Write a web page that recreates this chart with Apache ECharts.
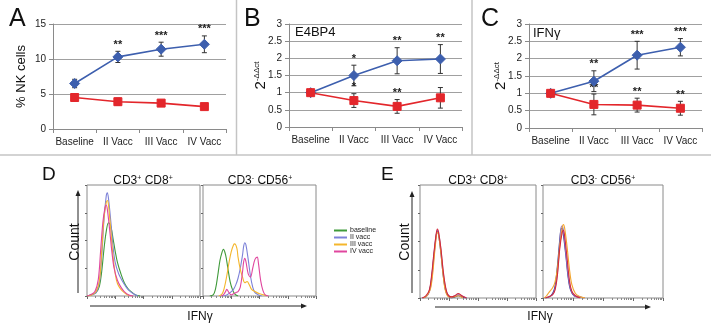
<!DOCTYPE html>
<html>
<head>
<meta charset="utf-8">
<script src="https://cdn.jsdelivr.net/npm/echarts@6/dist/echarts.min.js"></script>
<style>
  html, body { margin: 0; padding: 0; background: #fff; }
  #main { width: 711px; height: 332px; }
</style>
</head>
<body>
<div id="main"></div>
<script>
const categories = ['Baseline', 'II Vacc', 'III Vacc', 'IV Vacc'];

// A: % NK cells
const nkVacc = [6.5, 10.3, 11.4, 12.1];
const nkVaccErr = [0.6, 0.8, 1.0, 1.2];
const nkVaccStars = ['', '**', '***', '***'];
const nkCtrl = [4.5, 3.9, 3.7, 3.2];
const nkCtrlErr = [0.5, 0.5, 0.3, 0.2];
const nkCtrlStars = ['', '', '', ''];

// B: E4BP4
const e4Vacc = [1.0, 1.5, 1.93, 1.98];
const e4VaccErr = [0.05, 0.3, 0.38, 0.42];
const e4VaccStars = ['', '*', '**', '**'];
const e4Ctrl = [1.0, 0.77, 0.6, 0.85];
const e4CtrlErr = [0.05, 0.2, 0.2, 0.3];
const e4CtrlStars = ['', '*', '**', ''];

// C: IFNg
const ifnVacc = [1.0, 1.35, 2.1, 2.33];
const ifnVaccErr = [0.05, 0.3, 0.4, 0.25];
const ifnVaccStars = ['', '**', '***', '***'];
const ifnCtrl = [1.0, 0.68, 0.66, 0.57];
const ifnCtrlErr = [0.07, 0.3, 0.2, 0.2];
const ifnCtrlStars = ['', '**', '**', '**'];

// histograms: [position along IFNg axis (%), count (% of max)]
const histNames = ['baseline', 'II vacc', 'III vacc', 'IV vacc'];
const dCd8Base = [[0,0],[4,1],[8,3],[11,9],[13,22],[15,42],[17,58],[19,66],[21,63],[23,52],[25,40],[27,30],[30,20],[33,12],[36,7],[39,4],[43,1],[47,0]];
const dCd8Vacc2 = [[0,0],[4,1],[8,3],[11,12],[13,35],[15,68],[17,90],[18,93],[19,88],[21,68],[23,45],[25,30],[28,20],[31,14],[34,9],[37,5],[41,2],[45,0]];
const dCd8Vacc3 = [[0,0],[4,1],[8,4],[11,14],[13,40],[15,70],[17,84],[18,86],[19,82],[21,60],[23,36],[25,20],[27,11],[30,6],[33,3],[36,1],[40,0]];
const dCd8Vacc4 = [[0,0],[3,1],[7,4],[10,15],[12,40],[14,66],[16,80],[17,82],[18,78],[20,60],[22,40],[24,25],[27,14],[30,8],[33,4],[37,1],[41,0]];

const dCd56Base = [[6,0],[9,1],[11,6],[13,18],[15,32],[17,40],[18,42],[20,37],[22,25],[24,13],[26,6],[28,2],[31,0]];
const dCd56Vacc2 = [[18,0],[21,1],[24,3],[27,6],[29,10],[31,16],[33,25],[35,37],[36,45],[37,48],[38,46],[40,33],[42,18],[44,8],[46,3],[49,1],[52,0]];
const dCd56Vacc3 = [[14,0],[17,2],[19,8],[21,18],[23,30],[25,40],[27,46],[28,47],[30,43],[31,35],[33,24],[35,17],[37,12],[39,13],[41,10],[43,6],[46,4],[50,2],[54,1],[57,0]];
const dCd56Vacc4 = [[16,0],[18,1],[20,4],[21,6],[23,3],[25,1],[27,2],[29,3],[31,4],[33,8],[35,22],[36,31],[37,34],[38,31],[40,20],[42,17],[44,25],[46,33],[48,35],[49,30],[51,14],[53,5],[55,1],[58,0]];

const eCd8Base = [[2,0],[5,1],[8,6],[10,18],[12,38],[14,56],[15,59],[16,56],[18,40],[20,20],[22,7],[24,2],[27,0],[30,1],[33,2],[36,1],[40,0]];
const eCd8Vacc2 = [[2,0],[5,1],[8,5],[10,16],[12,36],[14,55],[15,60],[16,58],[18,43],[20,23],[22,9],[24,3],[27,1],[30,2],[33,3],[36,2],[40,0]];
const eCd8Vacc3 = [[3,0],[6,2],[9,8],[11,22],[13,44],[15,58],[16,56],[18,40],[20,20],[22,6],[25,1],[29,1],[33,2],[37,0]];
const eCd8Vacc4 = [[2,0],[5,2],[8,7],[10,20],[12,40],[14,57],[15,61],[16,58],[18,44],[20,24],[22,10],[24,3],[27,1],[30,2],[33,4],[36,2],[40,0]];

const eCd56Base = [[2,0],[5,1],[8,4],[10,10],[12,28],[14,52],[15,61],[16,62],[17,56],[19,38],[21,18],[23,7],[26,2],[30,1],[34,0]];
const eCd56Vacc2 = [[2,0],[5,1],[8,3],[10,8],[12,22],[14,48],[15,62],[16,64],[17,60],[19,40],[21,20],[23,8],[26,2],[30,1],[35,0]];
const eCd56Vacc3 = [[1,0],[3,2],[5,5],[8,9],[10,14],[12,26],[14,46],[16,62],[17,65],[18,62],[20,46],[22,26],[24,12],[27,4],[31,1],[35,0]];
const eCd56Vacc4 = [[2,0],[5,1],[8,3],[10,7],[12,20],[14,44],[16,58],[17,60],[18,55],[20,36],[22,16],[24,6],[27,2],[31,0]];

const BLUE = '#3d5fae';
const RED = '#e3262b';
const FONT = '"Liberation Sans", Arial, sans-serif';
const dColors = ['#3f9a3a', '#7d82d8', '#f4b62c', '#e0469e'];
const eColors = ['#2b2f8c', '#9c7cc8', '#f3a52c', '#d42a3c'];

const chart = echarts.init(document.getElementById('main'));

function errSeries(idx, values, errs, stars) {
  return {
    type: 'custom',
    xAxisIndex: idx, yAxisIndex: idx,
    z: 2, silent: true,
    data: values.map((v, i) => [i, v, errs[i]]),
    renderItem: function (params, api) {
      const i = api.value(0), v = api.value(1), e = api.value(2);
      const top = api.coord([i, v + e]);
      const bot = api.coord([i, v - e]);
      const st = {stroke: '#333', lineWidth: 1};
      const children = [
        {type: 'line', shape: {x1: top[0], y1: top[1], x2: bot[0], y2: bot[1]}, style: st},
        {type: 'line', shape: {x1: top[0] - 2.5, y1: top[1], x2: top[0] + 2.5, y2: top[1]}, style: st},
        {type: 'line', shape: {x1: bot[0] - 2.5, y1: bot[1], x2: bot[0] + 2.5, y2: bot[1]}, style: st}
      ];
      const s = stars[params.dataIndex];
      if (s) {
        children.push({type: 'text', x: top[0], y: top[1] - 1,
          style: {text: s, align: 'center', verticalAlign: 'bottom', font: 'bold 11px ' + FONT, fill: '#222'}});
      }
      return {type: 'group', children: children};
    }
  };
}

function lineSeries(idx, name, values, color, symbol, size) {
  return {
    type: 'line', name: name, xAxisIndex: idx, yAxisIndex: idx, z: 3,
    data: values, symbol: symbol, symbolSize: size,
    lineStyle: {color: color, width: 1.6},
    itemStyle: {color: color, borderColor: color},
    emphasis: {disabled: true}
  };
}

function catAxis(idx) {
  return {
    type: 'category', gridIndex: idx, data: categories, boundaryGap: true,
    axisLine: {lineStyle: {color: '#8a8a8a'}},
    axisTick: {show: true, length: 4, lineStyle: {color: '#8a8a8a'}},
    axisLabel: {color: '#222', fontSize: 10, fontFamily: FONT, margin: 8, interval: 0}
  };
}

function valAxis(idx, max, interval, name, gap, rich) {
  return {
    type: 'value', gridIndex: idx, min: 0, max: max, interval: interval,
    axisLine: {show: true, lineStyle: {color: '#8a8a8a'}},
    axisTick: {show: true, length: 4, lineStyle: {color: '#8a8a8a'}},
    splitLine: {lineStyle: {color: '#a0a0a0'}},
    axisLabel: {color: '#222', fontSize: 10, fontFamily: FONT, margin: 7},
    name: name, nameLocation: 'middle', nameGap: gap, nameMoveOverlap: false,
    nameTextStyle: {color: '#111', fontSize: 13, fontFamily: FONT, rich: rich}
  };
}

const supRich = {
  m: {fontSize: 15, fontFamily: FONT, color: '#111'},
  s: {fontSize: 8, fontFamily: FONT, color: '#111', verticalAlign: 'top'}
};

// histogram grids: 3..6
const histGrids = [
  {left: 87, top: 185, width: 113, height: 111},
  {left: 203, top: 185, width: 113, height: 111},
  {left: 420, top: 185, width: 116, height: 113},
  {left: 543, top: 185, width: 120, height: 113}
];
const histData = [
  [dCd8Base, dCd8Vacc2, dCd8Vacc3, dCd8Vacc4],
  [dCd56Base, dCd56Vacc2, dCd56Vacc3, dCd56Vacc4],
  [eCd8Base, eCd8Vacc2, eCd8Vacc3, eCd8Vacc4],
  [eCd56Base, eCd56Vacc2, eCd56Vacc3, eCd56Vacc4]
];

const grids = [
  {left: 53, top: 24, width: 173, height: 105, outerBoundsMode: 'none'},
  {left: 289, top: 24, width: 173, height: 103, outerBoundsMode: 'none'},
  {left: 529, top: 24, width: 173, height: 104, outerBoundsMode: 'none'}
].concat(histGrids.map(g => Object.assign({show: true, borderColor: '#8a8a8a', borderWidth: 1, backgroundColor: 'transparent', outerBoundsMode: 'none'}, g)));

const xAxes = [catAxis(0), catAxis(1), catAxis(2)];
const yAxes = [
  valAxis(0, 15, 5, '% NK cells', 25, null),
  valAxis(1, 3, 0.5, '{m|2}{s|-ΔΔct}', 21, supRich),
  valAxis(2, 3, 0.5, '{m|2}{s|-ΔΔct}', 21, supRich)
];
histGrids.forEach((g, k) => {
  xAxes.push({type: 'value', gridIndex: 3 + k, min: 0, max: 100, show: false});
  yAxes.push({type: 'value', gridIndex: 3 + k, min: 0, max: 100, interval: 25,
    axisLine: {show: false}, axisLabel: {show: false}, splitLine: {show: false},
    axisTick: {show: true, length: 2, lineStyle: {color: '#666'}}});
});
// log tick axes under histograms
histGrids.forEach((g, k) => {
  xAxes.push({type: 'log', gridIndex: 3 + k, min: 1, max: 10000, logBase: 10, position: 'bottom',
    axisLine: {show: false}, axisLabel: {show: false}, splitLine: {show: false},
    axisTick: {show: true, length: 3, lineStyle: {color: '#666'}},
    minorTick: {show: true, splitNumber: 9, length: 2, lineStyle: {color: '#888'}}});
});

const series = [
  errSeries(0, nkVacc, nkVaccErr, nkVaccStars),
  errSeries(0, nkCtrl, nkCtrlErr, nkCtrlStars),
  lineSeries(0, 'A vacc', nkVacc, BLUE, 'diamond', 10),
  lineSeries(0, 'A ctrl', nkCtrl, RED, 'rect', 8),
  errSeries(1, e4Vacc, e4VaccErr, e4VaccStars),
  errSeries(1, e4Ctrl, e4CtrlErr, e4CtrlStars),
  lineSeries(1, 'B vacc', e4Vacc, BLUE, 'diamond', 10),
  lineSeries(1, 'B ctrl', e4Ctrl, RED, 'rect', 8),
  errSeries(2, ifnVacc, ifnVaccErr, ifnVaccStars),
  errSeries(2, ifnCtrl, ifnCtrlErr, ifnCtrlStars),
  lineSeries(2, 'C vacc', ifnVacc, BLUE, 'diamond', 10),
  lineSeries(2, 'C ctrl', ifnCtrl, RED, 'rect', 8)
];
histData.forEach((curves, k) => {
  const colors = k < 2 ? dColors : eColors;
  curves.forEach((d, j) => {
    series.push({
      type: 'line', name: k < 2 ? histNames[j] : 'E ' + histNames[j],
      xAxisIndex: 3 + k, yAxisIndex: 3 + k, data: d,
      symbol: 'none', smooth: 0.35,
      lineStyle: {color: colors[j], width: 1.1},
      itemStyle: {color: colors[j]},
      emphasis: {disabled: true}
    });
  });
});

function txt(x, y, text, size, align, extra) {
  return Object.assign({type: 'text', x: x, y: y, silent: true,
    style: {text: text, font: size + 'px ' + FONT, fill: '#111', align: align || 'left', verticalAlign: 'middle',
      rich: {s: {fontSize: Math.round(size * 0.6), fontFamily: FONT, fill: '#111', verticalAlign: 'top'}}}}, extra || {});
}

function arrow(x1, y1, x2, y2) {
  const ang = Math.atan2(y2 - y1, x2 - x1);
  const h = 6, w = 2.5;
  const bx = x2 - h * Math.cos(ang), by = y2 - h * Math.sin(ang);
  const px = -Math.sin(ang) * w, py = Math.cos(ang) * w;
  return [
    {type: 'line', silent: true, shape: {x1: x1, y1: y1, x2: bx, y2: by}, style: {stroke: '#222', lineWidth: 1}},
    {type: 'polygon', silent: true, shape: {points: [[x2, y2], [bx + px, by + py], [bx - px, by - py]]}, style: {fill: '#222'}}
  ];
}

const sep = {stroke: '#c4c4c4', lineWidth: 1.5};
const graphic = [
  {type: 'line', silent: true, shape: {x1: 236.5, y1: 0, x2: 236.5, y2: 155}, style: sep},
  {type: 'line', silent: true, shape: {x1: 472, y1: 0, x2: 472, y2: 155}, style: sep},
  {type: 'line', silent: true, shape: {x1: 0, y1: 155, x2: 711, y2: 155}, style: sep},
  txt(9, 19, 'A', 25),
  txt(244, 19, 'B', 25),
  txt(481, 19, 'C', 25),
  txt(295, 32, 'E4BP4', 13),
  txt(533, 33, 'IFNγ', 13),
  txt(42, 175, 'D', 19),
  txt(381, 175, 'E', 19),
  txt(143, 181, 'CD3{s|+} CD8{s|+}', 12, 'center'),
  txt(260, 181, 'CD3{s|-} CD56{s|+}', 12, 'center'),
  txt(478, 181, 'CD3{s|+} CD8{s|+}', 12, 'center'),
  txt(603, 181, 'CD3{s|-} CD56{s|+}', 12, 'center'),
  txt(75, 242, 'Count', 14, 'center', {rotation: Math.PI / 2}),
  txt(405, 242, 'Count', 14, 'center', {rotation: Math.PI / 2}),
  txt(200, 317, 'IFNγ', 12, 'center'),
  txt(540, 317, 'IFNγ', 12, 'center')
].concat(arrow(78, 293, 78, 190), arrow(90, 306, 307, 306), arrow(412, 293, 412, 191), arrow(435, 307, 651, 307));

chart.setOption({
  animation: false,
  backgroundColor: '#fff',
  grid: grids,
  xAxis: xAxes,
  yAxis: yAxes,
  legend: {
    data: histNames, orient: 'vertical', left: 334, top: 227, padding: 0,
    itemWidth: 13, itemHeight: 2, itemGap: 0, icon: 'rect',
    textStyle: {fontSize: 7, fontFamily: FONT, color: '#222', lineHeight: 6, padding: [0, 0, 0, -2]}
  },
  series: series,
  graphic: graphic
});
</script>
</body>
</html>
